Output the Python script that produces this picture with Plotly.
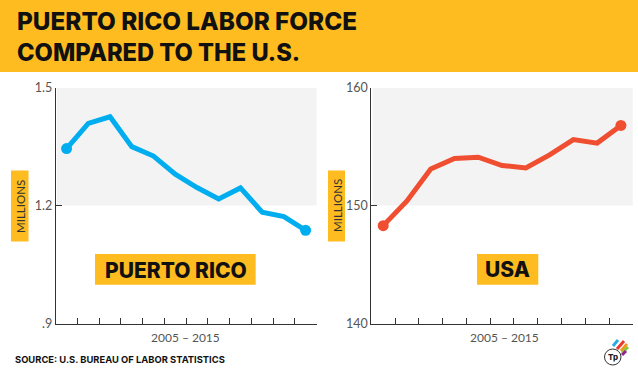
import plotly.graph_objects as go

W, H = 638, 371
YELLOW = "#FFBC21"
SHADE = "#F3F3F3"
BLUE = "#00AEEF"
RED = "#F04E30"
AXIS = "#333333"
TEXT = "#555555"

title_lines = ["PUERTO RICO LABOR FORCE", "COMPARED TO THE U.S."]
source = "SOURCE: U.S. BUREAU OF LABOR STATISTICS"
period = "2005 – 2015"

pr_steps = list(range(1, 13))
pr_values = [1.345, 1.409, 1.426, 1.350, 1.326, 1.280, 1.246, 1.217, 1.245, 1.183, 1.172, 1.137]
pr_ticks = [0.9, 1.2, 1.5]
pr_labels = [".9", "1.2", "1.5"]

us_steps = list(range(1, 12))
us_values = [148.3, 150.4, 153.1, 154.0, 154.1, 153.4, 153.2, 154.3, 155.6, 155.3, 156.8]
us_ticks = [140, 150, 160]
us_labels = ["140", "150", "160"]


def px(x):
    return x / W


def py(y):
    return 1 - y / H


fig = go.Figure()


def end_markers(n):
    return [11 if i in (0, n - 1) else 0 for i in range(n)]


fig.add_trace(go.Scatter(x=pr_steps, y=pr_values, mode="lines+markers", xaxis="x", yaxis="y",
                         line=dict(color=BLUE, width=5),
                         marker=dict(color=BLUE, opacity=1, size=end_markers(len(pr_values)), line=dict(width=0)),
                         cliponaxis=False, showlegend=False, hoverinfo="skip"))
fig.add_trace(go.Scatter(x=us_steps, y=us_values, mode="lines+markers", xaxis="x2", yaxis="y2",
                         line=dict(color=RED, width=5),
                         marker=dict(color=RED, opacity=1, size=end_markers(len(us_values)), line=dict(width=0)),
                         cliponaxis=False, showlegend=False, hoverinfo="skip"))

xcommon = dict(type="linear", showgrid=False, zeroline=False, showline=True, linecolor=AXIS, linewidth=1,
               ticks="inside", ticklen=6, tickwidth=1, tickcolor=AXIS, showticklabels=False, dtick=1)
ycommon = dict(showgrid=False, zeroline=False, showline=True, linecolor=AXIS, linewidth=1,
               ticks="inside", ticklen=6, tickwidth=1, tickcolor=AXIS,
               tickfont=dict(family="Lato", size=12.5, color=TEXT))

top, bottom = 87.7, 323.5
fig.update_layout(
    width=W, height=H, margin=dict(l=0, r=0, t=0, b=0, pad=0, autoexpand=False), autosize=False,
    paper_bgcolor="white", plot_bgcolor="white", showlegend=False,
    xaxis=dict(domain=[px(55.7), px(316.5)], range=[0.5, len(pr_steps) + 0.5], tick0=0.5, anchor="y", **xcommon),
    yaxis=dict(domain=[py(bottom), py(top)], range=[pr_ticks[0], pr_ticks[-1]], tickvals=pr_ticks,
               ticktext=pr_labels, anchor="x", **ycommon),
    xaxis2=dict(domain=[px(371.3), px(632.8)], range=[0.5, len(us_steps) + 0.5], tick0=0.5, anchor="y2", **xcommon),
    yaxis2=dict(domain=[py(bottom), py(top)], range=[us_ticks[0], us_ticks[-1]], tickvals=us_ticks,
                ticktext=us_labels, anchor="x2", **ycommon),
)


def paper_rect(x0, y0, x1, y1, color, layer="below"):
    fig.add_shape(type="rect", xref="paper", yref="paper", x0=px(x0), x1=px(x1), y0=py(y0), y1=py(y1),
                  fillcolor=color, line_width=0, layer=layer)


def label(text, x, y, size, family="Inter", weight=700, color="#111111", anchor="center", angle=0):
    fig.add_annotation(text=text, xref="paper", yref="paper", x=px(x), y=py(y), xanchor=anchor, yanchor="middle",
                       showarrow=False, textangle=angle,
                       font=dict(family=family, size=size, color=color, weight=weight))


# Header
paper_rect(0, 0, W, 72, YELLOW)
label(title_lines[0], 15, 21, 24.3, weight=800, anchor="left")
label(title_lines[1], 15, 53, 23.7, weight=800, anchor="left")

# Shaded upper bands
fig.add_shape(type="rect", xref="x domain", yref="y", x0=0.005, x1=1, y0=pr_ticks[1], y1=pr_ticks[2],
              fillcolor=SHADE, line_width=0, layer="below")
fig.add_shape(type="rect", xref="x2 domain", yref="y2", x0=0.005, x1=1, y0=us_ticks[1], y1=us_ticks[2],
              fillcolor=SHADE, line_width=0, layer="below")

# MILLIONS tags
paper_rect(11, 170.5, 28.5, 241.5, YELLOW)
paper_rect(328, 170.5, 345, 241.5, YELLOW)
label("MILLIONS", 20, 206, 11.5, family="Lato", weight=400, color="#333333", angle=-90)
label("MILLIONS", 337, 206, 11.5, family="Lato", weight=400, color="#333333", angle=-90)

# Series tags
paper_rect(95, 254, 255.7, 284.7, YELLOW)
paper_rect(477, 254, 538.3, 284.7, YELLOW)
label("PUERTO RICO", 175.5, 270, 21, weight=800)
label("USA", 507.5, 269.5, 21, weight=800)

# Period labels
label(period, 185, 337.7, 12, family="Lato", weight=400, color=TEXT)
label(period, 504.7, 337.7, 12, family="Lato", weight=400, color=TEXT)

# Source
label(source, 13, 359.5, 9.4, anchor="left")

# Logo
for (x0, y0, x1, y1, c) in [(613, 346, 618, 340, "#29ABE2"), (617, 349, 624, 341, "#E8392B"),
                            (621, 351, 627, 344, "#F7941D"), (622, 353, 628, 347, "#8DC63F"),
                            (622, 355, 626, 351, "#92278F")]:
    fig.add_shape(type="line", xref="paper", yref="paper", x0=px(x0), y0=py(y0), x1=px(x1), y1=py(y1),
                  line=dict(color=c, width=3))
fig.add_shape(type="circle", xref="paper", yref="paper", x0=px(604.5), x1=px(621), y0=py(349), y1=py(365),
              fillcolor="white", line=dict(color="#333333", width=1))
label("Tp", 612.7, 357, 8, weight=800, color="#222222")

fig.write_html("out.html", config={"displayModeBar": False},
               post_script="document.documentElement.style.margin='0';document.body.style.margin='0';"
                           "document.body.style.padding='0';document.body.style.overflow='hidden';"
                           "var d=document.body.firstElementChild;if(d){d.style.margin='0';}")
